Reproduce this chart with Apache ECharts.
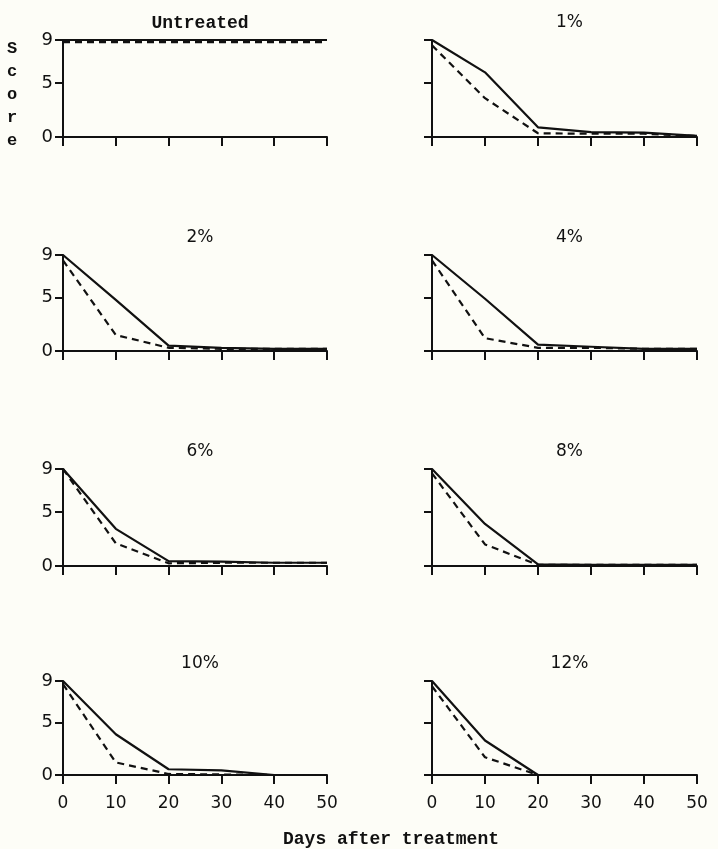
<!DOCTYPE html>
<html>
<head>
<meta charset="utf-8">
<script src="https://cdn.jsdelivr.net/npm/echarts@6/dist/echarts.min.js"></script>
<style>
  html, body { margin: 0; background: #fdfdf7; }
  #chart { width: 718px; height: 849px; }
</style>
</head>
<body>
<div id="chart"></div>
<script>
// days after treatment
const days = [0, 10, 20, 30, 40, 50];
const yTicks = [0, 5, 9];
const panelTitles = ['Untreated', '1%', '2%', '4%', '6%', '8%', '10%', '12%'];

// score, solid line
const solidUntreated = [9, 9, 9, 9, 9, 9];
const solid1 = [9, 6.0, 0.9, 0.45, 0.4, 0.1];
const solid2 = [9, 4.8, 0.5, 0.3, 0.2, 0.2];
const solid4 = [9, 4.9, 0.6, 0.4, 0.2, 0.2];
const solid6 = [9, 3.45, 0.45, 0.4, 0.3, 0.3];
const solid8 = [9, 3.9, 0.15, 0.1, 0.1, 0.1];
const solid10 = [9, 3.9, 0.55, 0.45, 0, 0];
const solid12 = [9, 3.3, 0, 0, 0, 0];

// score, dashed line
const dashedUntreated = [8.8, 8.8, 8.8, 8.8, 8.8, 8.8];
const dashed1 = [8.5, 3.6, 0.35, 0.3, 0.3, 0.1];
const dashed2 = [8.5, 1.5, 0.3, 0.2, 0.2, 0.2];
const dashed4 = [8.5, 1.2, 0.3, 0.3, 0.2, 0.2];
const dashed6 = [9, 2.1, 0.25, 0.3, 0.3, 0.3];
const dashed8 = [8.6, 2.0, 0.1, 0.1, 0.1, 0.1];
const dashed10 = [8.7, 1.2, 0.1, 0.05, 0, 0];
const dashed12 = [8.5, 1.7, 0, 0, 0, 0];

const solids = [solidUntreated, solid1, solid2, solid4, solid6, solid8, solid10, solid12];
const dashes = [dashedUntreated, dashed1, dashed2, dashed4, dashed6, dashed8, dashed10, dashed12];

const chart = echarts.init(document.getElementById('chart'));

const colLeft = [63, 432];
const colWidth = [264, 265];
const rowTop = [40, 255, 469, 681];
const rowHeight = [97, 96, 97, 94];

const grids = [], xAxes = [], yAxes = [], series = [], titles = [];
panelTitles.forEach((name, i) => {
  const row = Math.floor(i / 2);
  const col = i % 2;
  grids.push({
    left: colLeft[col], top: rowTop[row],
    width: colWidth[col], height: rowHeight[row]
  });
  xAxes.push({
    type: 'value', gridIndex: i, min: 0, max: 50, interval: 10,
    axisLine: { lineStyle: { color: '#111', width: 2 } },
    axisTick: { inside: false, length: 9, lineStyle: { color: '#111', width: 2 } },
    axisLabel: {
      show: row === 3, margin: 20, color: '#111',
      fontFamily: 'DejaVu Sans', fontSize: 17
    },
    splitLine: { show: false }
  });
  yAxes.push({
    type: 'value', gridIndex: i, min: 0, max: 9,
    axisLine: { show: true, lineStyle: { color: '#111', width: 2 } },
    axisTick: { show: true, length: 8, customValues: yTicks, lineStyle: { color: '#111', width: 2 } },
    axisLabel: {
      show: col === 0, customValues: yTicks, margin: 10, color: '#111',
      fontFamily: 'DejaVu Sans', fontSize: 18
    },
    splitLine: { show: false }
  });
  series.push({
    type: 'line', xAxisIndex: i, yAxisIndex: i, symbol: 'none',
    data: days.map((d, k) => [d, solids[i][k]]),
    lineStyle: { color: '#111', width: 2.2 }
  });
  series.push({
    type: 'line', xAxisIndex: i, yAxisIndex: i, symbol: 'none',
    data: days.map((d, k) => [d, dashes[i][k]]),
    lineStyle: { color: '#111', width: 2.2, type: [7, 5] }
  });
  titles.push({
    text: name,
    left: colLeft[col] + colWidth[col] / 2,
    textAlign: 'center',
    top: rowTop[row] - 31,
    textStyle: i === 0
      ? { fontFamily: 'Liberation Mono', fontWeight: 'bold', fontSize: 18, color: '#111' }
      : { fontFamily: 'DejaVu Sans', fontWeight: 'normal', fontSize: 17, color: '#111' }
  });
});

titles.push({
  text: 'Days after treatment',
  left: 391, textAlign: 'center', top: 830, padding: 0,
  textStyle: { fontFamily: 'Liberation Mono', fontWeight: 'bold', fontSize: 18, color: '#111' }
});

const scoreLetters = ['S', 'c', 'o', 'r', 'e'];
const graphics = scoreLetters.map((ch, k) => ({
  type: 'text', left: 7, top: 40 + k * 23,
  style: { text: ch, font: 'bold 17px "Liberation Mono"', fill: '#111' }
}));

chart.setOption({
  backgroundColor: '#fdfdf7',
  animation: false,
  title: titles,
  grid: grids,
  xAxis: xAxes,
  yAxis: yAxes,
  series: series,
  graphic: graphics
});
</script>
</body>
</html>
